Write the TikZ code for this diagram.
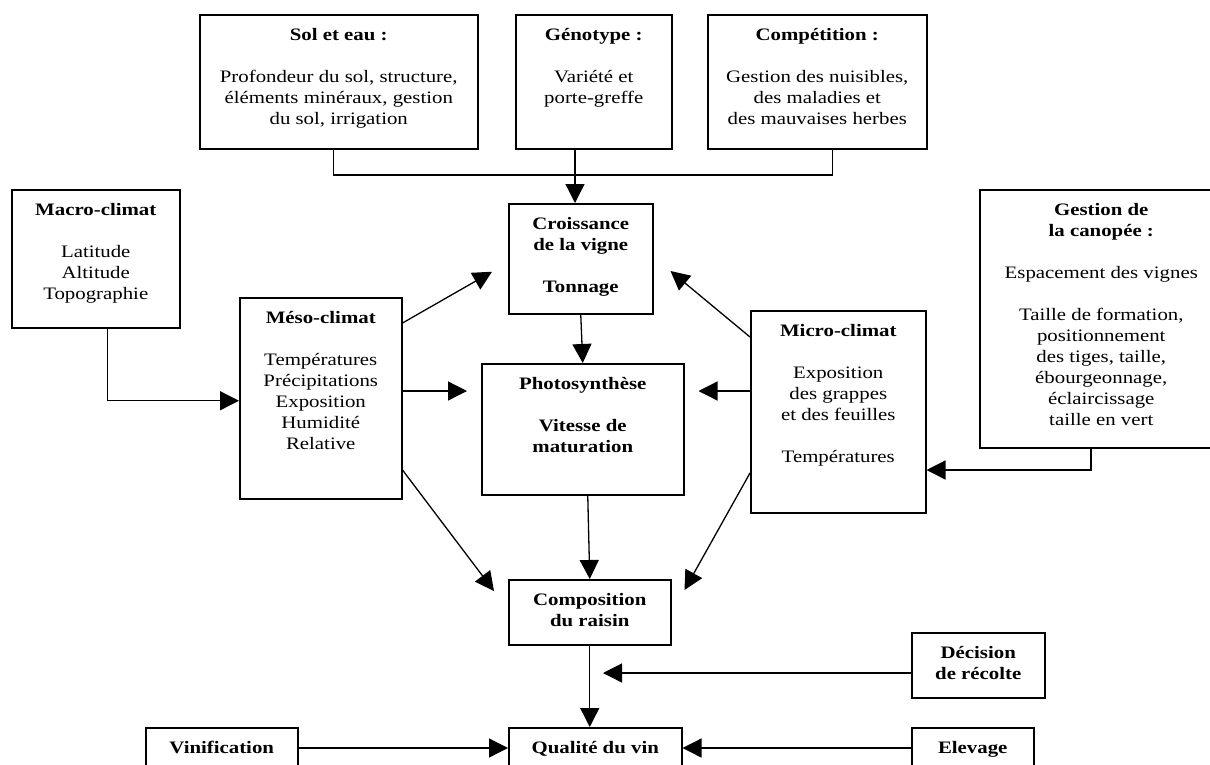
\documentclass[tikz,border=0pt]{standalone}
\usepackage{fontspec}
\setmainfont{Liberation Serif}[FakeStretch=1.19]
\usetikzlibrary{arrows.meta,calc}
\newcommand\bx[3]{\parbox[t][#2pt][t]{#1pt}{\centering\fontsize{17.5}{21}\selectfont\rule{0pt}{26pt}#3\par}}
\tikzset{
  box/.style={draw, line width=1.5pt, inner sep=0pt, anchor=north west},
  ln/.style={line width=1.3pt},
  arr/.style={line width=1.3pt, -{Triangle[length=19pt,width=19pt]}},
}
\begin{document}
\begin{tikzpicture}[x=1pt,y=-1pt]
\useasboundingbox (0,0) rectangle (1210,764);
\clip (0,0) rectangle (1210,764);
\fill[white] (0,0) rectangle (1210,764);

% top row
\node[box] (sol) at (199,14) {\bx{278}{134}{\textbf{Sol et eau :}\\[21pt]Profondeur du sol, structure,\\éléments minéraux, gestion\\du sol, irrigation}};
\node[box] (geno) at (515,14) {\bx{156}{134}{\textbf{Génotype :}\\[21pt]Variété et\\porte-greffe}};
\node[box] (comp) at (707,14) {\bx{219}{134}{\textbf{Compétition :}\\[21pt]Gestion des nuisibles,\\des maladies et\\des mauvaises herbes}};

% middle
\node[box] (macro) at (11,189) {\bx{168}{138}{\textbf{Macro-climat}\\[21pt]Latitude\\Altitude\\Topographie}};
\node[box] (meso) at (239,297) {\bx{162}{201}{\textbf{Méso-climat}\\[21pt]Températures\\Précipitations\\Exposition\\Humidité\\Relative}};
\node[box] (croiss) at (508,203) {\bx{144}{110}{\bfseries Croissance\\de la vigne\\[21pt]Tonnage}};
\node[box] (photo) at (481,363) {\bx{202}{131}{\bfseries Photosynthèse\\[21pt]Vitesse de\\maturation}};
\node[box] (micro) at (750,310) {\bx{175}{202}{\textbf{Micro-climat}\\[21pt]Exposition\\des grappes\\et des feuilles\\[21pt]Températures}};
\node[box] (gest) at (979,189) {\bx{243}{258}{\textbf{Gestion de}\\\textbf{la canopée :}\\[21pt]Espacement des vignes\\[21pt]Taille de formation,\\positionnement\\des tiges, taille,\\ébourgeonnage,\\éclaircissage\\taille en vert}};

% bottom
\node[box] (compo) at (508,579) {\bx{162}{65}{\bfseries Composition\\du raisin}};
\node[box] (decis) at (911,632) {\bx{133}{65}{\bfseries Décision\\de récolte}};
\node[box] (qual) at (508,727) {\bx{173}{60}{\bfseries Qualité du vin}};
\node[box] (vinif) at (145,727) {\bx{152}{60}{\bfseries Vinification}};
\node[box] (elev) at (911,727) {\bx{122}{60}{\bfseries Elevage}};

% connectors
\coordinate (j) at (575,175);
\draw[ln] ($(sol.south)+(-5,0)$) |- (j);
\draw[ln] (j) -| ($(comp.south)+(15,0)$);
\draw[arr] (geno.south -| j) -- (croiss.north -| j);

\draw[arr] ($(macro.south)+(12,0)$) |- ($(meso.west)+(0,2.5)$);
\draw[arr] ($(meso.north east)+(0,26)$) -- ($(croiss.west)+(-16,13)$);
\draw[arr] ($(meso.north east)+(0,94)$) -- ($(photo.north west)+(-14,28)$);
\draw[arr] ($(meso.north east)+(0,173)$) -- ($(compo.north west)+(-14,12)$);

\draw[arr] (croiss.south) -- (photo.north);
\draw[arr] ($(photo.south)+(5,0)$) -- (compo.north);
\draw[arr] (compo.south) -- (compo.south |- qual.north);

\draw[arr] ($(micro.north west)+(0,27)$) -- ($(croiss.north east)+(17,68)$);
\draw[arr] ($(micro.north west)+(0,81)$) -- ($(photo.north east)+(14,28)$);
\draw[arr] ($(micro.north west)+(0,163)$) -- ($(compo.north east)+(13,11)$);

\draw[arr] ($(gest.south west)+(112,0)$) |- ($(micro.north east)+(0,160)$);

\coordinate (dtip) at (603,673);
\draw[arr] (decis.west |- dtip) -- (dtip);

\draw[arr] ($(vinif.north east)+(0,21)$) -- ($(qual.north west)+(0,21)$);
\draw[arr] ($(elev.north west)+(0,21)$) -- ($(qual.north east)+(0,21)$);
\end{tikzpicture}
\end{document}
